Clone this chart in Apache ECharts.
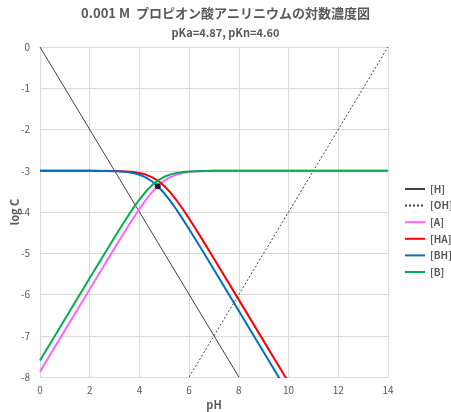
<!DOCTYPE html>
<html><head><meta charset="utf-8">
<script src="https://cdn.jsdelivr.net/npm/echarts@6/dist/echarts.min.js"></script>
<style>html,body{margin:0;padding:0;background:#fff}#c{width:451px;height:412px}</style>
</head><body><div id="c"></div>
<script>
const titleText = '0.001 M  プロピオン酸アニリニウムの対数濃度図';
const subText = 'pKa=4.87, pKn=4.60';
const xTicks = [0, 2, 4, 6, 8, 10, 12, 14];
const yTicks = [0, -1, -2, -3, -4, -5, -6, -7, -8];
const seriesNames = ['[H]', '[OH]', '[A]', '[HA]', '[BH]', '[B]'];
const hX = [0, 8];
const hY = [0, -8];
const ohX = [6, 14];
const ohY = [-8, 0];
const pH = [0, 1, 2, 3, 3.25, 3.5, 3.75, 4, 4.25, 4.5, 4.75, 5, 5.25, 5.5, 5.75, 6, 6.25, 6.5, 7, 8, 9, 10, 14];
const A  = [-7.870, -6.870, -5.871, -4.876, -4.630, -4.388, -4.152, -3.925, -3.713, -3.524, -3.365, -3.241, -3.151, -3.092, -3.054, -3.031, -3.018, -3.010, -3.003, -3.000, -3.000, -3.000, -3.000];
const HA = [-3.000, -3.000, -3.001, -3.006, -3.010, -3.018, -3.032, -3.055, -3.093, -3.154, -3.245, -3.371, -3.531, -3.722, -3.934, -4.161, -4.398, -4.640, -5.133, -6.130, -7.130, -8.130, -12.130];
const BH = [-3.000, -3.000, -3.001, -3.011, -3.019, -3.033, -3.057, -3.097, -3.160, -3.254, -3.383, -3.546, -3.738, -3.952, -4.180, -4.417, -4.660, -4.905, -5.402, -6.400, -7.400, -8.400, -12.400];
const B  = [-7.600, -6.600, -5.601, -4.611, -4.369, -4.133, -3.907, -3.697, -3.510, -3.354, -3.233, -3.146, -3.088, -3.052, -3.030, -3.017, -3.010, -3.005, -3.002, -3.000, -3.000, -3.000, -3.000];
const dotX = [4.735];
const dotY = [-3.374];

const zip = (xs, ys) => xs.map((x, i) => [x, ys[i]]);
const font = '"Noto Sans CJK JP", "Noto Sans", sans-serif';
const chart = echarts.init(document.getElementById('c'), null, {renderer: 'canvas'});
function curve(name, data, color, width, type) {
  return {name, type: 'line', data, symbol: 'none', smooth: false,
    lineStyle: {color, width, type: type || 'solid', join: 'round'}, itemStyle: {color}, z: 3, animation: false};
}
chart.setOption({
  animation: false,
  textStyle: {fontFamily: font},
  title: [
    {text: titleText, left: 'center', top: 2, textStyle: {fontFamily: font, fontSize: 13, fontWeight: 'bold', color: '#595959'}},
    {text: subText, left: 'center', top: 22, textStyle: {fontFamily: font, fontSize: 11, fontWeight: 'bold', color: '#595959'}}
  ],
  grid: {left: 40, right: 63, top: 47, bottom: 35, outerBoundsMode: 'none', containLabel: false},
  legend: {
    data: seriesNames, orient: 'vertical', left: 404, top: 184, itemGap: 6.6, padding: 0,
    itemWidth: 20, itemHeight: 12, icon: 'inherit',
    itemStyle: {opacity: 0},
    textStyle: {fontFamily: font, fontSize: 10, color: '#595959', fontWeight: 'bold'}
  },
  xAxis: {
    type: 'value', min: 0, max: 14, interval: 2, name: 'pH', nameLocation: 'middle', nameGap: 22,
    nameMoveOverlap: false,
    nameTextStyle: {fontFamily: font, fontSize: 11, fontWeight: 'bold', color: '#595959'},
    axisLine: {show: true, onZero: false, lineStyle: {color: '#d9d9d9'}},
    axisTick: {show: false},
    axisLabel: {color: '#595959', fontSize: 10, margin: 8, customValues: xTicks},
    splitLine: {show: true, lineStyle: {color: '#d9d9d9'}}
  },
  yAxis: {
    type: 'value', min: -8, max: 0, interval: 1, name: 'log C', nameLocation: 'middle', nameGap: 20,
    nameRotate: 90, nameMoveOverlap: false,
    nameTextStyle: {fontFamily: font, fontSize: 11, fontWeight: 'bold', color: '#595959'},
    axisLine: {show: true, onZero: false, lineStyle: {color: '#d9d9d9'}},
    axisTick: {show: false},
    axisLabel: {color: '#595959', fontSize: 10, margin: 10},
    splitLine: {show: true, lineStyle: {color: '#d9d9d9'}}
  },
  series: [
    curve('[H]', zip(hX, hY), '#404040', 1),
    curve('[OH]', zip(ohX, ohY), '#404040', 1, [2, 2]),
    curve('[A]', zip(pH, A), '#ff66ff', 2),
    curve('[HA]', zip(pH, HA), '#ff0000', 2),
    curve('[BH]', zip(pH, BH), '#0070c0', 2),
    curve('[B]', zip(pH, B), '#00b050', 2),
    {type: 'scatter', data: zip(dotX, dotY), symbolSize: 6, itemStyle: {color: '#000'}, z: 5, silent: true}
  ]
});
</script></body></html>
